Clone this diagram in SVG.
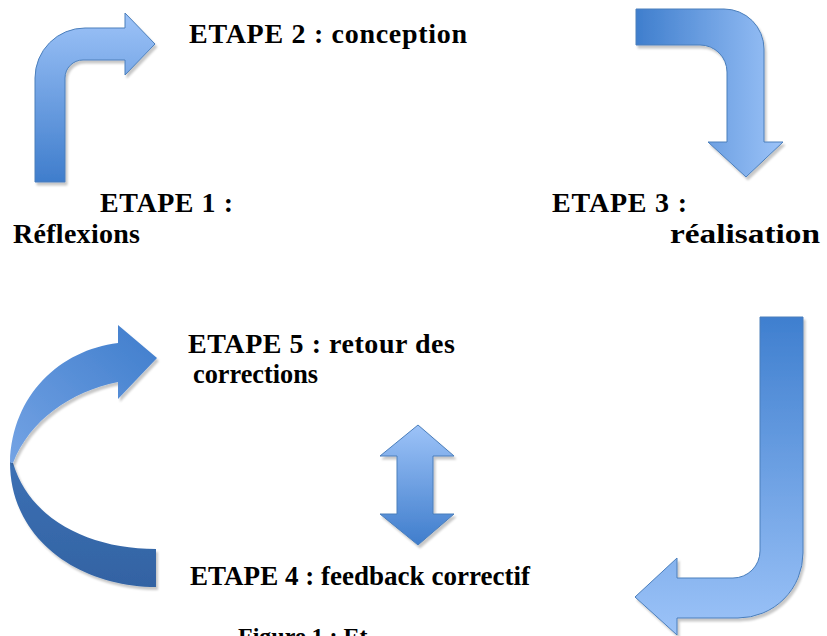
<svg xmlns="http://www.w3.org/2000/svg" width="827" height="636" viewBox="0 0 827 636">
<defs>
<style>
.t{font-family:"Liberation Serif","Times New Roman",serif;font-weight:bold;font-size:28px;fill:#000}
.a{stroke:#4a7ebb;stroke-width:1;filter:url(#sh)}
</style>
<filter id="sh" x="-10%" y="-10%" width="130%" height="130%">
<feOffset in="SourceAlpha" dx="2" dy="3" result="o"/>
<feGaussianBlur in="o" stdDeviation="0.8" result="b"/>
<feFlood flood-color="#000" flood-opacity="0.22"/>
<feComposite in2="b" operator="in" result="s"/>
<feMerge><feMergeNode in="s"/><feMergeNode in="SourceGraphic"/></feMerge>
</filter>
<linearGradient id="gDown" x1="0" y1="0" x2="0" y2="1">
<stop offset="0" stop-color="#9dc3f8"/><stop offset="1" stop-color="#3f7dcc"/>
</linearGradient>
<linearGradient id="gUp" x1="0" y1="0" x2="0" y2="1">
<stop offset="0" stop-color="#3f7fcf"/><stop offset="1" stop-color="#9cc3f8"/>
</linearGradient>
<linearGradient id="gRight" x1="0" y1="0" x2="1" y2="0">
<stop offset="0" stop-color="#3f7ecd"/><stop offset="1" stop-color="#9cc3f8"/>
</linearGradient>
<linearGradient id="gCurveTop" x1="1" y1="0" x2="0" y2="1">
<stop offset="0" stop-color="#3f7dcc"/><stop offset="1" stop-color="#74a3e4"/>
</linearGradient>
<linearGradient id="gCurveBot" x1="0" y1="0" x2="0" y2="1">
<stop offset="0" stop-color="#3c70b4"/><stop offset="1" stop-color="#3363a3"/>
</linearGradient>
</defs>

<g id="connectors">
<g id="arrow-1-2">
<path class="a" fill="url(#gDown)" d="M35,182 L35,78 A50,50 0 0 1 85,28 L125,28 L125,13 L155,44 L125,75 L125,60 L83,60 A18,18 0 0 0 65,78 L65,182 Z"/>
</g>
<g id="arrow-2-3">
<path class="a" fill="url(#gRight)" d="M636,9 L724,9 A40,40 0 0 1 764,49 L764,142 L783,142 L746,177 L708,142 L727,142 L727,72 A27,27 0 0 0 700,45 L636,45 Z"/>
</g>
<g id="arrow-3-4">
<path class="a" fill="url(#gUp)" d="M760,317 L803,317 L803,553 A65,65 0 0 1 738,618 L677,618 L677,635 L635,597 L677,558 L677,578 L733,578 A27,27 0 0 0 760,551 Z"/>
</g>
<g id="arrow-4-5">
<path class="a" fill="url(#gDown)" d="M418,425 L454,456 L433,456 L433,514 L454,514 L418,545 L380,514 L397,514 L397,456 L380,456 Z"/>
</g>
<g id="arrow-5-back">
<path fill="url(#gCurveBot)" filter="url(#sh)" d="M10,462 C10,540 80,587 156,587 L156,549 C90,549 30,520 13,463 Z"/>
<path fill="url(#gCurveTop)" filter="url(#sh)" d="M118,343 C60,350 12,395 10,462 L13,463 C30,420 70,392 118,382 L118,399 L157,358 L118,325 Z"/>
</g>
</g>

<g id="etape2"><text class="t" x="189" y="43" textLength="278" lengthAdjust="spacing">ETAPE 2 : conception</text></g>
<g id="etape1"><text class="t" x="100" y="212" textLength="133" lengthAdjust="spacing">ETAPE 1 :</text><text class="t" x="13" y="243" textLength="127" lengthAdjust="spacing">Réflexions</text></g>
<g id="etape3"><text class="t" x="552" y="212" textLength="135" lengthAdjust="spacing">ETAPE 3 :</text><text class="t" x="670" y="243" textLength="150" lengthAdjust="spacingAndGlyphs">réalisation</text></g>
<g id="etape5"><text class="t" x="188" y="353" textLength="267" lengthAdjust="spacing">ETAPE 5 : retour des</text><text class="t" x="193" y="383" textLength="125" lengthAdjust="spacingAndGlyphs">corrections</text></g>
<g id="etape4"><text class="t" x="190" y="585" textLength="340" lengthAdjust="spacingAndGlyphs">ETAPE 4 : feedback correctif</text></g>
<g id="caption"><text class="t" style="font-size:24px" x="238" y="644">Figure 1 : Et</text></g>
</svg>
